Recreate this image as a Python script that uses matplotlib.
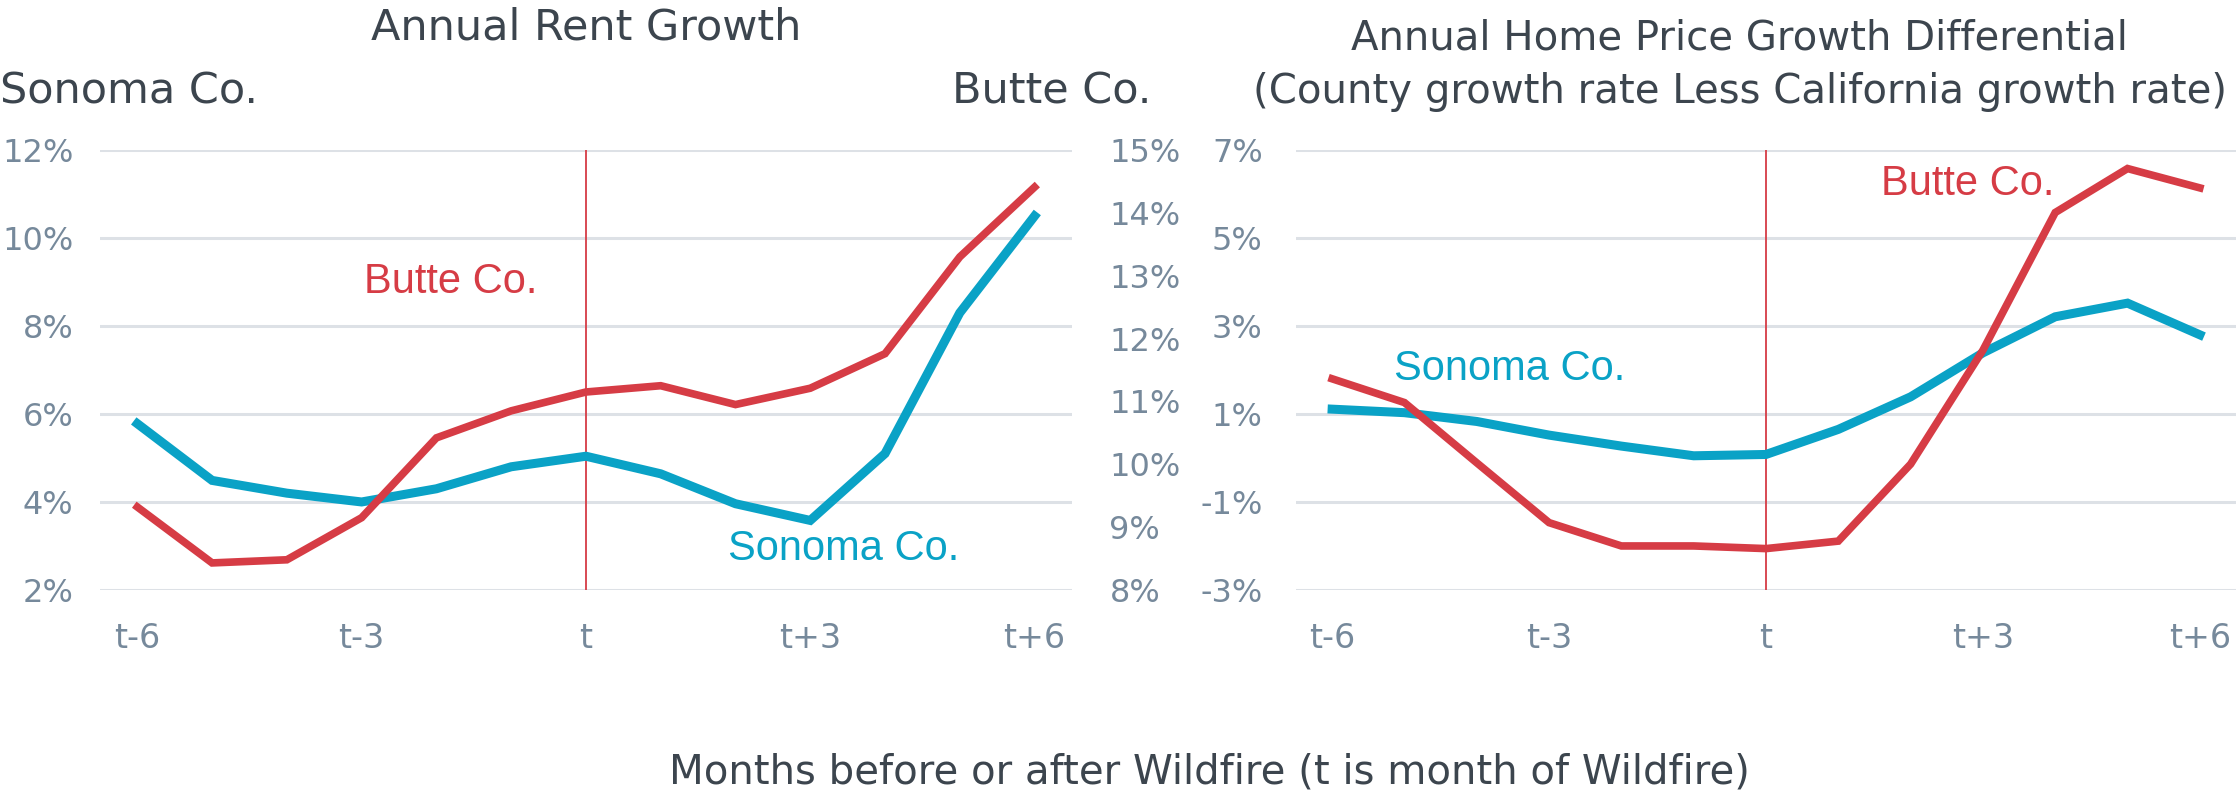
import numpy as np
import matplotlib
matplotlib.use("Agg")
from matplotlib import pyplot as plt
from matplotlib.ticker import FuncFormatter

# Data
months = np.arange(-6, 7)
tick_pos = [-6, -3, 0, 3, 6]
tick_lab = ['t-6', 't-3', 't', 't+3', 't+6']

# Annual rent growth (%): Sonoma on left axis, Butte on right axis
rent_sonoma = [5.78, 4.49, 4.20, 4.00, 4.30, 4.80, 5.04, 4.64, 3.96, 3.58, 5.10, 8.30, 10.50]
rent_butte = [9.32, 8.43, 8.48, 9.15, 10.42, 10.85, 11.15, 11.25, 10.95, 11.21, 11.76, 13.30, 14.41]

# Home price growth differential (%)
price_sonoma = [1.11, 1.03, 0.83, 0.52, 0.27, 0.05, 0.08, 0.65, 1.39, 2.39, 3.21, 3.52, 2.80]
price_butte = [1.80, 1.26, -0.11, -1.47, -2.00, -2.00, -2.06, -1.89, -0.14, 2.45, 5.58, 6.58, 6.14]

# Styles
BLUE = '#0aa2c6'
RED = '#d63c45'
DARK = '#3c454e'
TICK = '#76899b'
GRID = '#dde1e6'
plt.rcParams['font.family'] = ['DejaVu Sans']

fig = plt.figure(figsize=(22.36, 7.94), dpi=100)
ax1 = fig.add_axes([0.0447, 0.257, 0.4347, 0.554])
ax2 = fig.add_axes([0.5796, 0.257, 0.4204, 0.554])
ax1b = ax1.twinx()

pct = FuncFormatter(lambda v, p: f'{v:.0f}%')


def style(ax, grid=True, ypad=20):
    for s in ax.spines.values():
        s.set_visible(False)
    ax.tick_params(length=0, colors=TICK)
    ax.tick_params(axis='y', pad=ypad, labelsize=23)
    ax.tick_params(axis='x', pad=23, labelsize=24)
    ax.yaxis.set_major_formatter(pct)
    if grid:
        ax.grid(axis='y', color=GRID, lw=2.2)
        ax.set_axisbelow(True)


# Left chart
ax1.plot(months, rent_sonoma, color=BLUE, lw=6.5, solid_joinstyle='miter', zorder=3)
ax1b.plot(months, rent_butte, color=RED, lw=5.5, solid_joinstyle='miter', zorder=3)
ax1.axvline(0, color=RED, lw=1.3, zorder=2)
ax1.set_xlim(-6.5, 6.5)
ax1.set_ylim(2, 12)
ax1.set_yticks([2, 4, 6, 8, 10, 12])
ax1b.set_ylim(8, 15)
ax1b.set_yticks(range(8, 16))
ax1.set_xticks(tick_pos, tick_lab)
style(ax1, ypad=19)
style(ax1b, grid=False, ypad=27)
ax1b.grid(False)

ax1.text(-2.97, 9.0, 'Butte Co.', color=RED, fontsize=30, family='Liberation Sans',
         ha='left', va='center')
ax1.text(1.9, 2.92, 'Sonoma Co.', color=BLUE, fontsize=30, family='Liberation Sans',
         ha='left', va='center')

# Right chart
ax2.plot(months, price_sonoma, color=BLUE, lw=6.5, solid_joinstyle='miter', zorder=3)
ax2.plot(months, price_butte, color=RED, lw=5.5, solid_joinstyle='miter', zorder=4)
ax2.axvline(0, color=RED, lw=1.3, zorder=2)
ax2.set_xlim(-6.5, 6.5)
ax2.set_ylim(-3, 7)
ax2.set_yticks([-3, -1, 1, 3, 5, 7])
ax2.set_xticks(tick_pos, tick_lab)
style(ax2, ypad=24)

ax2.text(1.59, 6.22, 'Butte Co.', color=RED, fontsize=30, family='Liberation Sans',
         ha='left', va='center')
ax2.text(-5.15, 2.02, 'Sonoma Co.', color=BLUE, fontsize=30, family='Liberation Sans',
         ha='left', va='center')

# Titles and labels
fig.text(0.262, 0.950, 'Annual Rent Growth', color=DARK, fontsize=31, ha='center', va='baseline')
fig.text(0.0, 0.870, 'Sonoma Co.', color=DARK, fontsize=31, ha='left', va='baseline')
fig.text(0.515, 0.870, 'Butte Co.', color=DARK, fontsize=31, ha='right', va='baseline')
fig.text(0.778, 0.938, 'Annual Home Price Growth Differential',
         color=DARK, fontsize=29, ha='center', va='baseline')
fig.text(0.778, 0.870, '(County growth rate Less California growth rate)',
         color=DARK, fontsize=29, ha='center', va='baseline')
fig.text(0.541, 0.013, 'Months before or after Wildfire (t is month of Wildfire)',
         color=DARK, fontsize=29, ha='center', va='baseline')

fig.savefig('out.png', dpi=100)
